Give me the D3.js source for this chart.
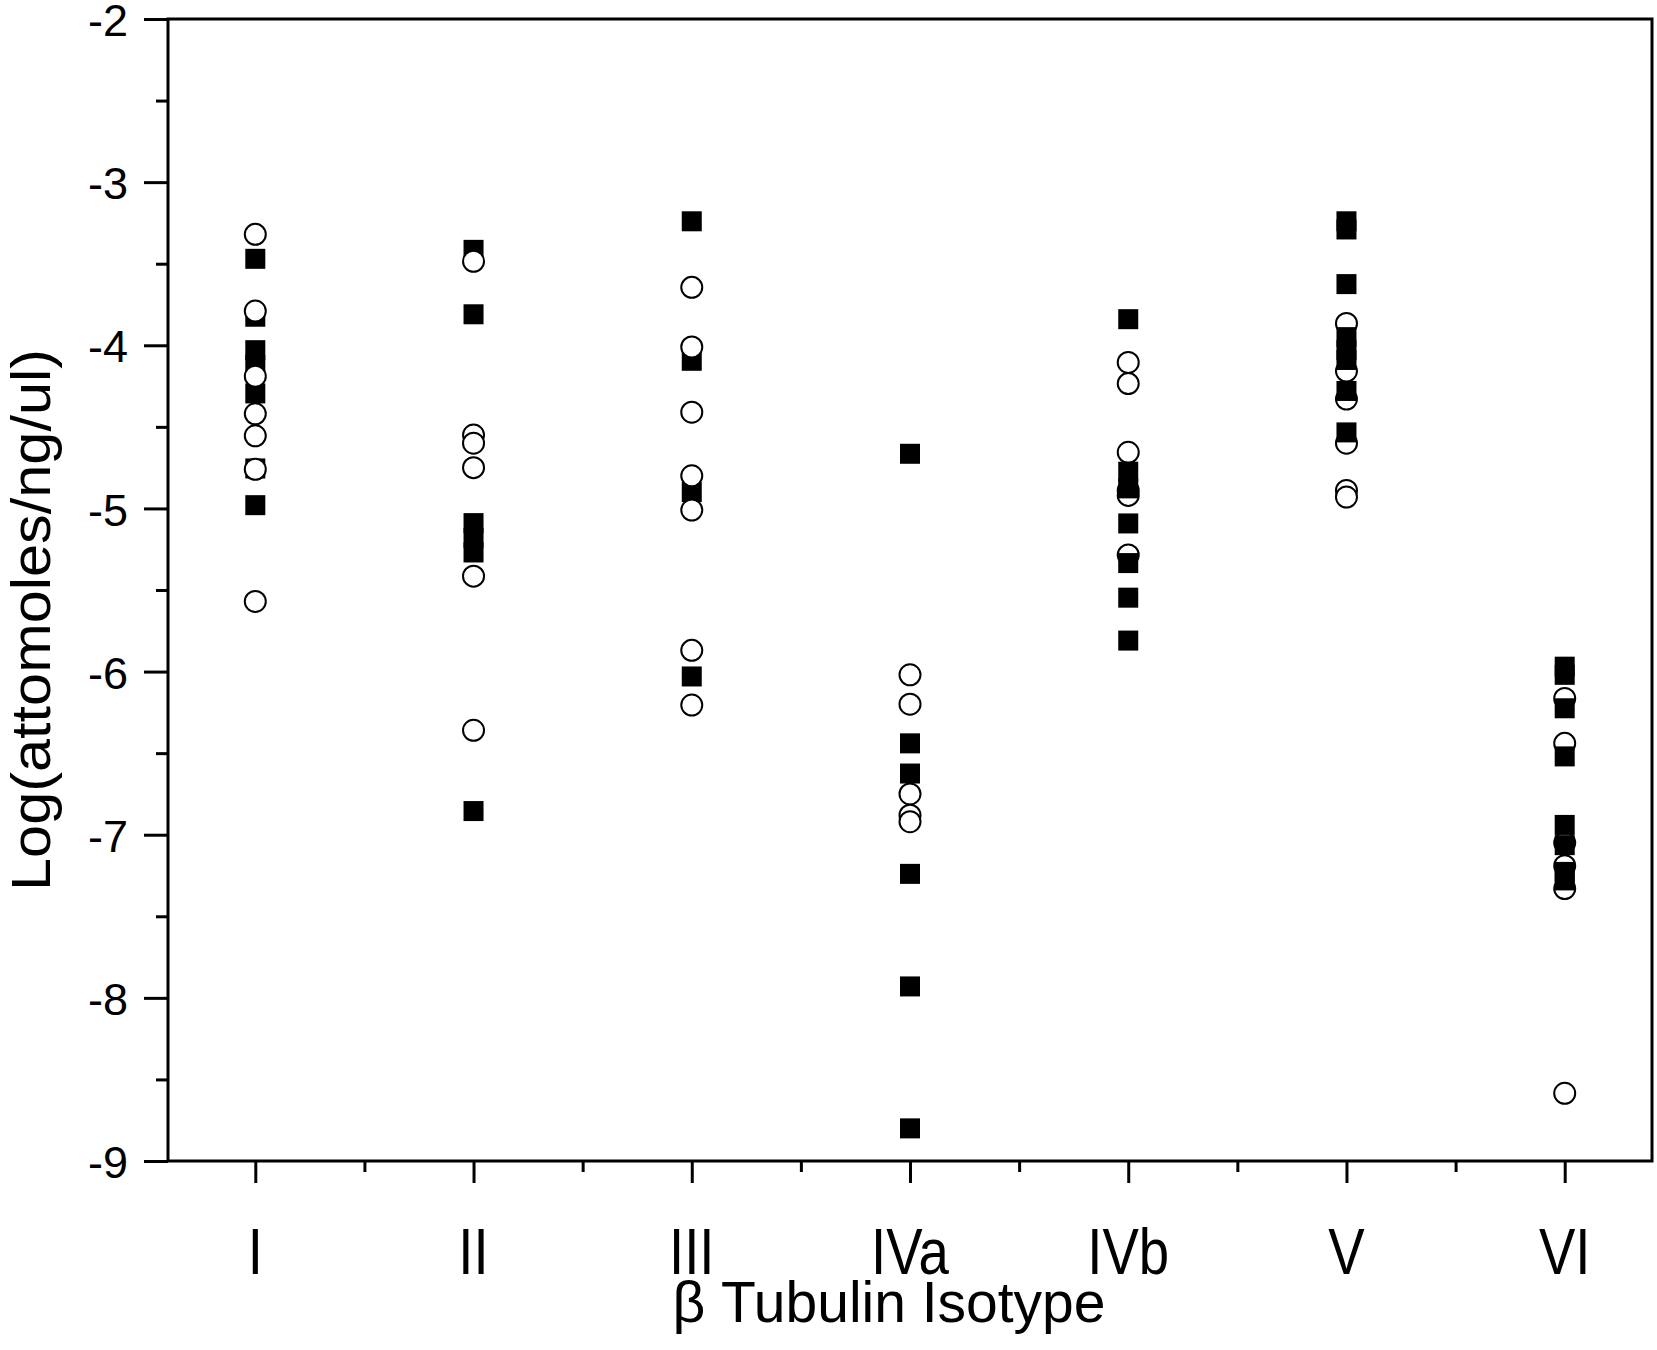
<!DOCTYPE html>
<html>
<head>
<meta charset="utf-8">
<script src="https://cdn.jsdelivr.net/npm/d3@7/dist/d3.min.js"></script>
<style>
  html, body { margin: 0; padding: 0; background: #fff; }
  svg { display: block; font-family: "Liberation Sans", Arial, sans-serif; }
</style>
</head>
<body>
<svg id="chart" width="1657" height="1350"></svg>
<script>
// ---- data ----
const categories = ["I", "II", "III", "IVa", "IVb", "V", "VI"];
const yTickValues = [-9, -8, -7, -6, -5, -4, -3, -2];
const yTickLabels = ["-9", "-8", "-7", "-6", "-5", "-4", "-3", "-2"];
// open circles, one list per isotype
const openCircles = [
  [-3.32, -3.79, -4.19, -4.42, -4.555, -4.76, -5.57],
  [-3.485, -4.55, -4.60, -4.75, -5.415, -6.36],
  [-3.645, -4.01, -4.41, -4.80, -5.01, -5.87, -6.205],
  [-6.02, -6.20, -6.75, -6.88, -6.92],
  [-4.105, -4.235, -4.656, -4.89, -4.92, -5.285],
  [-3.866, -4.158, -4.33, -4.60, -4.89, -4.93],
  [-6.165, -6.44, -7.05, -7.19, -7.33, -8.585]
];
// filled squares, one list per isotype
const filledSquares = [
  [-3.47, -3.825, -4.03, -4.12, -4.295, -4.755, -4.98],
  [-3.415, -3.81, -5.09, -5.18, -5.27, -6.855],
  [-3.24, -4.095, -4.90, -6.03],
  [-4.665, -6.44, -6.625, -7.24, -7.93, -8.80],
  [-3.84, -4.775, -4.877, -5.092, -5.335, -5.547, -5.81],
  [-3.24, -3.29, -3.625, -3.95, -4.03, -4.09, -4.28, -4.534],
  [-5.97, -6.02, -6.225, -6.52, -6.94, -7.064, -7.228, -7.28]
];
// isotypes whose squares were plotted over the circles
const squaresOnTop = ["IVb", "V", "VI"];
const xTitle = "\u03B2 Tubulin Isotype";
const yTitle = "Log(attomoles/ng/ul)";

// ---- layout ----
const svg = d3.select("#chart");
const L = 168, R = 1652, T = 19, B = 1161;
const x = d3.scaleLinear().domain([0.6, categories.length + 0.4]).range([L, R]);
const y = d3.scaleLinear().domain([-9, -2]).range([B, T]);
const SW = 3;

// frame
svg.append("rect").attr("x", L).attr("y", T).attr("width", R - L).attr("height", B - T)
  .attr("fill", "none").attr("stroke", "#000").attr("stroke-width", SW);

// y axis
const yMajor = d3.axisLeft(y).tickValues(yTickValues)
  .tickFormat((d, i) => yTickLabels[i]).tickSize(24).tickSizeOuter(0).tickPadding(16);
const yMinor = d3.axisLeft(y).tickValues(d3.range(-8.5, -2, 1)).tickFormat("").tickSize(12).tickSizeOuter(0);
const gy = svg.append("g").attr("transform", `translate(${L},0)`).call(yMajor);
svg.append("g").attr("transform", `translate(${L},0)`).call(yMinor)
  .call(g => g.select(".domain").remove())
  .selectAll("line").attr("stroke-width", SW);
gy.select(".domain").remove();
gy.selectAll("line").attr("stroke-width", SW);
gy.selectAll("text").attr("font-size", 45).attr("font-family", "Liberation Sans, Arial, sans-serif")
  .attr("fill", "#000").attr("dy", "0.37em");

// x axis
const xMajor = d3.axisBottom(x).tickValues(d3.range(1, categories.length + 1))
  .tickFormat("").tickSize(22).tickSizeOuter(0);
const xMinor = d3.axisBottom(x).tickValues(d3.range(1.5, categories.length, 1))
  .tickFormat("").tickSize(11).tickSizeOuter(0);
[xMajor, xMinor].forEach(ax => {
  svg.append("g").attr("transform", `translate(0,${B})`).call(ax)
    .call(g => g.select(".domain").remove())
    .selectAll("line").attr("stroke-width", SW);
});
// category labels
svg.append("g").selectAll("text").data(categories).join("text")
  .attr("transform", (d, i) => `translate(${x(i + 1)},1274) scale(0.84,1)`)
  .attr("text-anchor", "middle").attr("font-size", 65).attr("fill", "#000")
  .text(d => d);

// titles
svg.append("text").attr("x", 889).attr("y", 1322).attr("text-anchor", "middle")
  .attr("font-size", 57).attr("fill", "#000").text(xTitle);
svg.append("text").attr("transform", "translate(50,620) rotate(-90)")
  .attr("text-anchor", "middle").attr("font-size", 56).attr("fill", "#000")
  .attr("textLength", 542).attr("lengthAdjust", "spacingAndGlyphs").text(yTitle);

// points
const pts = svg.append("g");
const S = 20, CR = 10.5;
categories.forEach((cat, i) => {
  const cx = x(i + 1);
  const drawSquares = () => pts.append("g").selectAll("rect").data(filledSquares[i]).join("rect")
    .attr("x", cx - S / 2).attr("y", d => y(d) - S / 2).attr("width", S).attr("height", S)
    .attr("fill", "#000");
  const drawCircles = () => pts.append("g").selectAll("circle").data(openCircles[i]).join("circle")
    .attr("cx", cx).attr("cy", d => y(d)).attr("r", CR)
    .attr("fill", "#fff").attr("stroke", "#000").attr("stroke-width", 2);
  if (squaresOnTop.includes(cat)) { drawCircles(); drawSquares(); }
  else { drawSquares(); drawCircles(); }
});
</script>
</body>
</html>
